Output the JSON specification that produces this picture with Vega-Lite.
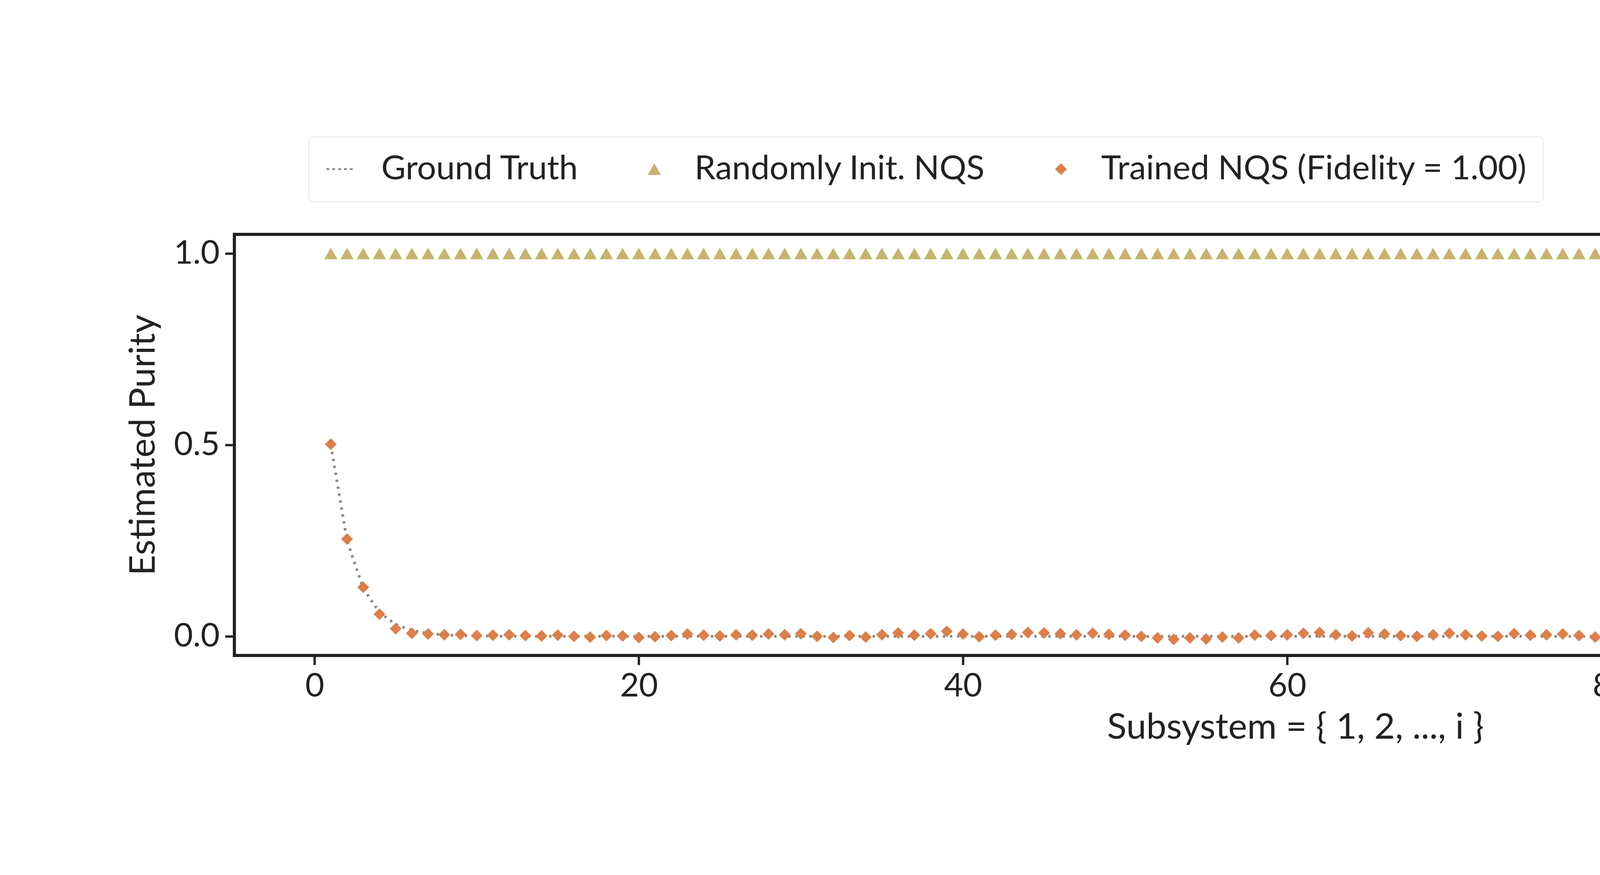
{
  "$schema": "https://vega.github.io/schema/vega-lite/v6.json",
  "width": 5432,
  "height": 1078,
  "autosize": {"type": "none"},
  "padding": {"left": 600, "top": 600, "right": 368, "bottom": 562},
  "background": "white",
  "config": {
    "font": "Lato",
    "view": {"stroke": "#222222", "strokeWidth": 8},
    "axis": {
      "domain": false, "grid": false, "tickColor": "#222222", "tickWidth": 6, "tickSize": 24,
      "labelFontSize": 84, "labelColor": "#222222", "labelPadding": 14,
      "titleFontSize": 92, "titleFontWeight": "normal", "titleColor": "#222222"
    }
  },
  "data": {
    "values": [
      {"i":1,"truth":0.5,"random":1,"trained":0.502},{"i":2,"truth":0.25,"random":1,"trained":0.254},{"i":3,"truth":0.125,"random":1,"trained":0.128},{"i":4,"truth":0.0625,"random":1,"trained":0.058},{"i":5,"truth":0.03125,"random":1,"trained":0.02},
      {"i":6,"truth":0.0156,"random":1,"trained":0.008},{"i":7,"truth":0.0078,"random":1,"trained":0.006},{"i":8,"truth":0.0039,"random":1,"trained":0.004},{"i":9,"truth":0.002,"random":1,"trained":0.005},{"i":10,"truth":0.001,"random":1,"trained":0.002},
      {"i":11,"truth":0.0005,"random":1,"trained":0.003},{"i":12,"truth":0.0002,"random":1,"trained":0.004},{"i":13,"truth":0.0001,"random":1,"trained":0.002},{"i":14,"truth":0,"random":1,"trained":0.001},{"i":15,"truth":0,"random":1,"trained":0.003},
      {"i":16,"truth":0,"random":1,"trained":0.0},{"i":17,"truth":0,"random":1,"trained":-0.002},{"i":18,"truth":0,"random":1,"trained":0.002},{"i":19,"truth":0,"random":1,"trained":0.001},{"i":20,"truth":0,"random":1,"trained":-0.003},
      {"i":21,"truth":0,"random":1,"trained":-0.001},{"i":22,"truth":0,"random":1,"trained":0.002},{"i":23,"truth":0,"random":1,"trained":0.006},{"i":24,"truth":0,"random":1,"trained":0.003},{"i":25,"truth":0,"random":1,"trained":0.001},
      {"i":26,"truth":0,"random":1,"trained":0.004},{"i":27,"truth":0,"random":1,"trained":0.003},{"i":28,"truth":0,"random":1,"trained":0.006},{"i":29,"truth":0,"random":1,"trained":0.004},{"i":30,"truth":0,"random":1,"trained":0.007},
      {"i":31,"truth":0,"random":1,"trained":0.0},{"i":32,"truth":0,"random":1,"trained":-0.003},{"i":33,"truth":0,"random":1,"trained":0.002},{"i":34,"truth":0,"random":1,"trained":-0.002},{"i":35,"truth":0,"random":1,"trained":0.004},
      {"i":36,"truth":0,"random":1,"trained":0.009},{"i":37,"truth":0,"random":1,"trained":0.003},{"i":38,"truth":0,"random":1,"trained":0.007},{"i":39,"truth":0,"random":1,"trained":0.013},{"i":40,"truth":0,"random":1,"trained":0.006},
      {"i":41,"truth":0,"random":1,"trained":-0.001},{"i":42,"truth":0,"random":1,"trained":0.003},{"i":43,"truth":0,"random":1,"trained":0.005},{"i":44,"truth":0,"random":1,"trained":0.01},{"i":45,"truth":0,"random":1,"trained":0.009},
      {"i":46,"truth":0,"random":1,"trained":0.007},{"i":47,"truth":0,"random":1,"trained":0.004},{"i":48,"truth":0,"random":1,"trained":0.008},{"i":49,"truth":0,"random":1,"trained":0.005},{"i":50,"truth":0,"random":1,"trained":0.003},
      {"i":51,"truth":0,"random":1,"trained":0.0},{"i":52,"truth":0,"random":1,"trained":-0.004},{"i":53,"truth":0,"random":1,"trained":-0.008},{"i":54,"truth":0,"random":1,"trained":-0.004},{"i":55,"truth":0,"random":1,"trained":-0.007},
      {"i":56,"truth":0,"random":1,"trained":-0.002},{"i":57,"truth":0,"random":1,"trained":-0.004},{"i":58,"truth":0,"random":1,"trained":0.003},{"i":59,"truth":0,"random":1,"trained":0.002},{"i":60,"truth":0,"random":1,"trained":0.004},
      {"i":61,"truth":0,"random":1,"trained":0.008},{"i":62,"truth":0,"random":1,"trained":0.01},{"i":63,"truth":0,"random":1,"trained":0.004},{"i":64,"truth":0,"random":1,"trained":0.001},{"i":65,"truth":0,"random":1,"trained":0.009},
      {"i":66,"truth":0,"random":1,"trained":0.006},{"i":67,"truth":0,"random":1,"trained":0.002},{"i":68,"truth":0,"random":1,"trained":0.0},{"i":69,"truth":0,"random":1,"trained":0.004},{"i":70,"truth":0,"random":1,"trained":0.008},
      {"i":71,"truth":0,"random":1,"trained":0.004},{"i":72,"truth":0,"random":1,"trained":0.001},{"i":73,"truth":0,"random":1,"trained":0.0},{"i":74,"truth":0,"random":1,"trained":0.007},{"i":75,"truth":0,"random":1,"trained":0.003},
      {"i":76,"truth":0,"random":1,"trained":0.004},{"i":77,"truth":0,"random":1,"trained":0.006},{"i":78,"truth":0,"random":1,"trained":0.002},{"i":79,"truth":0,"random":1,"trained":-0.002},{"i":80,"truth":0,"random":1,"trained":-0.003},
      {"i":81,"truth":0,"random":1,"trained":0.0},{"i":82,"truth":0,"random":1,"trained":-0.003},{"i":83,"truth":0,"random":1,"trained":-0.006},{"i":84,"truth":0,"random":1,"trained":-0.001},{"i":85,"truth":0,"random":1,"trained":0.002},
      {"i":86,"truth":0,"random":1,"trained":0.004},{"i":87,"truth":0,"random":1,"trained":0.005},{"i":88,"truth":0,"random":1,"trained":0.003},{"i":89,"truth":0,"random":1,"trained":0.006},{"i":90,"truth":0,"random":1,"trained":0.004},
      {"i":91,"truth":0,"random":1,"trained":0.009},{"i":92,"truth":0,"random":1,"trained":0.007},{"i":93,"truth":0,"random":1,"trained":0.003},{"i":94,"truth":0,"random":1,"trained":0.001},{"i":95,"truth":0,"random":1,"trained":0.004},
      {"i":96,"truth":0,"random":1,"trained":-0.001},{"i":97,"truth":0,"random":1,"trained":-0.004},{"i":98,"truth":0,"random":1,"trained":-0.002},{"i":99,"truth":0,"random":1,"trained":0.0},{"i":100,"truth":0,"random":1,"trained":-0.001},
      {"i":101,"truth":0,"random":1,"trained":0.002},{"i":102,"truth":0,"random":1,"trained":0.003},{"i":103,"truth":0,"random":1,"trained":0.001},{"i":104,"truth":0,"random":1,"trained":0.004},{"i":105,"truth":0,"random":1,"trained":0.002},
      {"i":106,"truth":0,"random":1,"trained":0.003},{"i":107,"truth":0,"random":1,"trained":0.001},{"i":108,"truth":0,"random":1,"trained":-0.003},{"i":109,"truth":0.0001,"random":1,"trained":-0.001},{"i":110,"truth":0.0005,"random":1,"trained":0.001},
      {"i":111,"truth":0.002,"random":1,"trained":0.006},{"i":112,"truth":0.0039,"random":1,"trained":0.008},{"i":113,"truth":0.0078,"random":1,"trained":0.015},{"i":114,"truth":0.0156,"random":1,"trained":0.028},{"i":115,"truth":0.03125,"random":1,"trained":0.045},
      {"i":116,"truth":0.0625,"random":1,"trained":0.065},{"i":117,"truth":0.125,"random":1,"trained":0.13},{"i":118,"truth":0.25,"random":1,"trained":0.255},{"i":119,"truth":0.5,"random":1,"trained":0.5},{"i":120,"truth":1.0,"random":1,"trained":1.0}
    ]
  },
  "encoding": {
    "x": {"field": "i", "type": "quantitative", "title": "Subsystem = { 1, 2, ..., i }",
      "scale": {"domain": [-4.95, 125.95], "nice": false, "zero": false},
      "axis": {"values": [0, 20, 40, 60, 80, 100, 120], "titlePadding": 18}}
  },
  "layer": [
    {
      "mark": {"type": "line", "color": "#888888", "strokeWidth": 7, "strokeDash": [6, 12]},
      "encoding": {
        "y": {"field": "truth", "type": "quantitative", "title": "Estimated Purity",
          "scale": {"domain": [-0.05, 1.05], "nice": false},
          "axis": {"values": [0, 0.5, 1], "format": ".1f", "titlePadding": 30}}
      }
    },
    {
      "transform": [
        {"fold": ["random", "trained"], "as": ["key", "value"]},
        {"calculate": "datum.key == 'trained' ? 'Trained NQS (Fidelity = 1.00)' : 'Randomly Init. NQS'", "as": "series"}
      ],
      "mark": {"type": "point", "filled": true, "opacity": 1},
      "encoding": {
        "y": {"field": "value", "type": "quantitative"},
        "color": {"field": "series", "type": "nominal",
          "scale": {"domain": ["Ground Truth", "Randomly Init. NQS", "Trained NQS (Fidelity = 1.00)"], "range": ["#888888", "#c9b26f", "#dc7f4a"]},
          "legend": {"title": null, "orient": "none", "legendX": 190, "legendY": -250, "direction": "horizontal",
            "labelFontSize": 86, "labelColor": "#222222", "symbolSize": 1400, "columnPadding": 150, "labelOffset": 60,
            "strokeColor": "#cccccc", "padding": 40, "cornerRadius": 12, "fillColor": "white", "labelLimit": 3000}},
        "shape": {"field": "series", "type": "nominal",
          "scale": {"domain": ["Ground Truth", "Randomly Init. NQS", "Trained NQS (Fidelity = 1.00)"],
            "range": ["M-2,-0.12H-1.6V0.12H-2Z M-1.2,-0.12H-0.8V0.12H-1.2Z M-0.4,-0.12H0V0.12H-0.4Z M0.4,-0.12H0.8V0.12H0.4Z M1.2,-0.12H1.6V0.12H1.2Z", "triangle-up", "diamond"]}},
        "size": {"field": "series", "type": "nominal", "legend": null,
          "scale": {"domain": ["Ground Truth", "Randomly Init. NQS", "Trained NQS (Fidelity = 1.00)"], "range": [1400, 900, 1900]}}
      }
    }
  ]
}
